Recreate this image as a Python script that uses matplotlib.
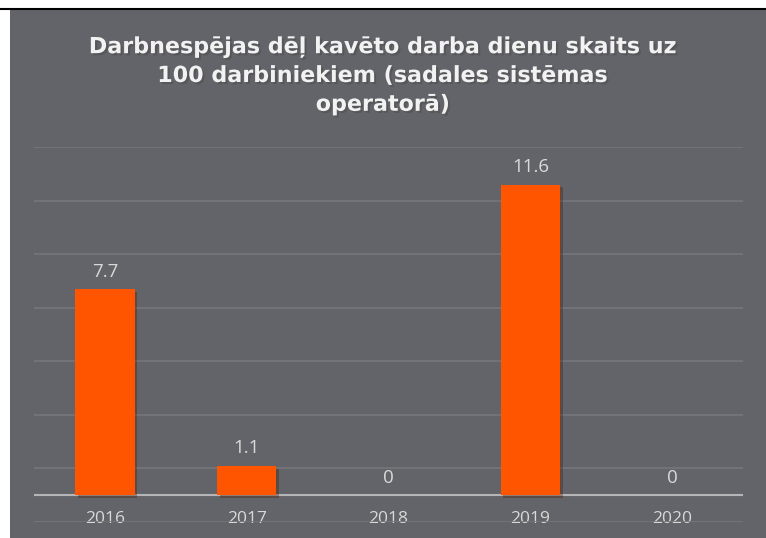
import matplotlib.pyplot as plt
import matplotlib.patheffects as pe
from matplotlib.patches import Rectangle
from matplotlib.lines import Line2D

years = ["2016", "2017", "2018", "2019", "2020"]
values = [7.7, 1.1, 0, 11.6, 0]
labels = ["7.7", "1.1", "0", "11.6", "0"]
title = "Darbnespējas dēļ kavēto darba dienu skaits uz\n100 darbiniekiem (sadales sistēmas\noperatorā)"

bg = "#636469"
bar_color = "#ff5500"

fig = plt.figure(figsize=(7.66, 5.38), dpi=100)
fig.patch.set_facecolor("white")

# grey panel + black line on top
fig.patches.append(Rectangle((10 / 766, 0), 1, 1 - 10 / 538, transform=fig.transFigure,
                             facecolor=bg, edgecolor="none", zorder=-10))
fig.lines.append(Line2D([0, 1], [1 - 9 / 538, 1 - 9 / 538], transform=fig.transFigure,
                        color="black", lw=1.5))

ax = fig.add_axes([34 / 766, 16 / 538, 709 / 766, 375 / 538])
ax.set_facecolor("none")

x = range(len(years))
bars = ax.bar(x, values, width=0.42, color=bar_color, zorder=3,
              path_effects=[pe.SimplePatchShadow(offset=(2, -2), alpha=0.35), pe.Normal()])

for xi, v, lab in zip(x, values, labels):
    ax.annotate(lab, (xi, v), xytext=(0, 6), textcoords="offset points",
                ha="center", va="bottom", fontsize=13.5, color="#d9d9d9",
                family="Open Sans")

ax.set_xlim(-0.5, len(years) - 0.5)
ax.set_ylim(-1, 13)
ax.set_yticks(range(-1, 14, 2))
ax.yaxis.grid(True, color="#76777b", lw=1.2, zorder=0)
ax.set_axisbelow(True)
ax.axhline(0, color="#b5b5b8", lw=1.5, zorder=2)

ax.set_xticks(list(x))
ax.set_xticklabels(years, fontsize=12.5, color="#d9d9d9", family="Open Sans")
ax.tick_params(axis="x", length=0, pad=-8)
ax.tick_params(axis="y", length=0, labelleft=False)
for s in ax.spines.values():
    s.set_visible(False)

fig.text(0.5, 1 - 76 / 538, title, ha="center", va="center", fontsize=16,
         fontweight="bold", color="#f2f2f2", linespacing=1.55, family="DejaVu Sans",
         path_effects=[pe.SimplePatchShadow(offset=(1.5, -1.5), alpha=0.45), pe.Normal()])

fig.savefig("out.png", dpi=100, facecolor=fig.get_facecolor())
